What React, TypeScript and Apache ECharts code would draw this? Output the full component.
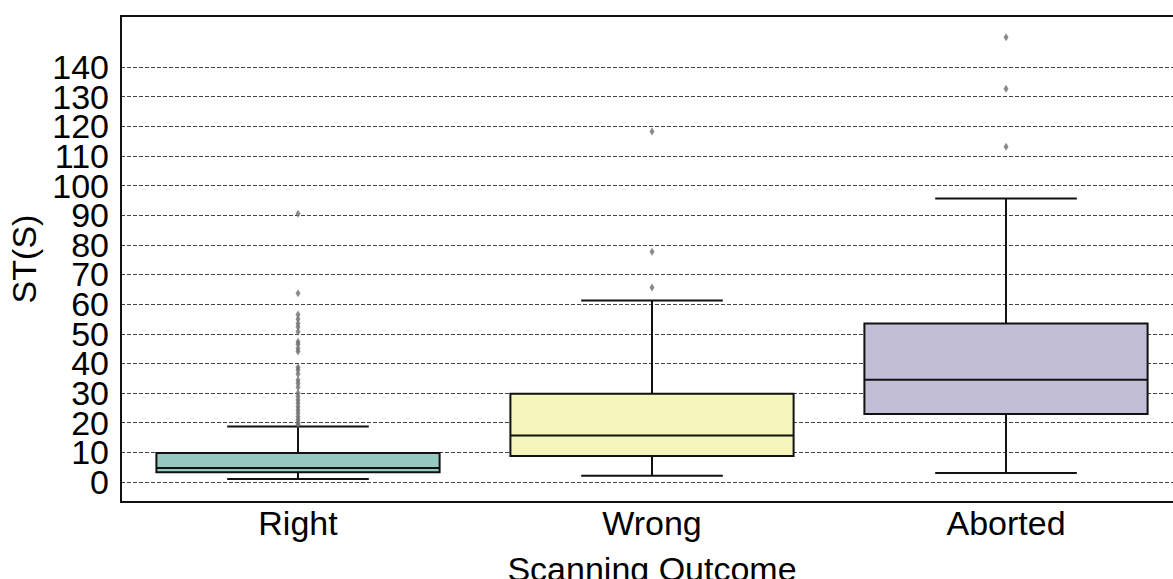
import React, { useEffect, useRef } from "react";
import * as echarts from "echarts";

const categories = ["Right", "Wrong", "Aborted"];
const whiskerLow = [1.0, 2.1, 3.0];
const q1 = [3.3, 8.8, 22.9];
const median = [4.7, 15.7, 34.5];
const q3 = [9.8, 29.8, 53.5];
const whiskerHigh = [18.7, 61.2, 95.6];
const outliersRight = [
  90.5, 63.7, 56.5, 55.0, 53.5, 52.3, 50.7, 47.3, 46.5, 45.0, 44.0, 38.7, 37.8,
  36.4, 34.4, 33.3, 32.0, 30.0, 28.8, 27.7, 26.6, 25.4, 24.3, 23.2, 22.0, 21.0,
  20.0, 19.5,
];
const outliersWrong = [118.2, 77.7, 65.6];
const outliersAborted = [150.0, 132.7, 113.1];
const yTicks = [0, 10, 20, 30, 40, 50, 60, 70, 80, 90, 100, 110, 120, 130, 140];
const yMin = -6.75;
const yMax = 157.2;
const boxColors = ["#96cac1", "#f6f6bc", "#c1bed6"];

const FONT = "Liberation Sans";

export default function App() {
  const ref = useRef<HTMLDivElement>(null);
  useEffect(() => {
    document.body.style.margin = "0";
    if (!ref.current) return;
    const chart = echarts.init(ref.current, undefined, { renderer: "svg" });
    const boxData = categories.map((_, i) => [
      i,
      whiskerLow[i],
      q1[i],
      median[i],
      q3[i],
      whiskerHigh[i],
    ]);
    const outlierData: number[][] = [];
    [outliersRight, outliersWrong, outliersAborted].forEach((arr, i) =>
      arr.forEach((v) => outlierData.push([i, v]))
    );
    const evenTicks = yTicks.filter((_, i) => i % 2 === 0);
    const oddTicks = yTicks.filter((_, i) => i % 2 === 1);
    const labelStyle = {
      showMinLabel: true,
      showMaxLabel: true,
      hideOverlap: false,
      color: "#000",
      fontSize: 34,
      fontFamily: FONT,
      margin: 12,
    };
    const lineStyle = { stroke: "#111", lineWidth: 2 };
    chart.setOption({
      animation: false,
      grid: {
        left: 121,
        top: 16,
        width: 1062,
        height: 486,
        outerBoundsMode: "none",
        containLabel: false,
        show: true,
        borderColor: "#111",
        borderWidth: 2,
        backgroundColor: "transparent",
      },
      xAxis: {
        type: "category",
        data: categories,
        boundaryGap: true,
        axisLine: {
          show: true,
          onZero: false,
          lineStyle: { color: "#111", width: 2 },
        },
        axisTick: { show: false },
        axisLabel: {
          color: "#000",
          fontSize: 34,
          fontFamily: FONT,
          margin: 4,
        },
        name: "Scanning Outcome",
        nameLocation: "middle",
        nameGap: 50,
        nameTextStyle: { color: "#000", fontSize: 34, fontFamily: FONT },
        splitLine: { show: false },
      },
      yAxis: [
        {
          type: "value",
          min: yMin,
          max: yMax,
          position: "left",
          axisLine: { show: true, lineStyle: { color: "#111", width: 2 } },
          axisTick: { show: false, customValues: yTicks },
          axisLabel: { ...labelStyle, customValues: evenTicks },
          splitLine: {
            show: true,
            lineStyle: { color: "#444", width: 1, type: [4, 2] },
          },
          name: "ST(S)",
          nameLocation: "middle",
          nameGap: 78,
          nameTextStyle: { color: "#000", fontSize: 34, fontFamily: FONT },
        },
        {
          type: "value",
          min: yMin,
          max: yMax,
          position: "left",
          offset: 0,
          axisLine: { show: false },
          axisTick: { show: false, customValues: oddTicks },
          axisLabel: { ...labelStyle, customValues: oddTicks },
          splitLine: { show: false },
        },
      ],
      series: [
        {
          type: "custom",
          data: boxData,
          encode: { x: 0, y: [1, 2, 3, 4, 5] },
          z: 3,
          renderItem: (params: any, api: any) => {
            const i = api.value(0);
            const lo = api.coord([i, api.value(1)]);
            const b1 = api.coord([i, api.value(2)]);
            const med = api.coord([i, api.value(3)]);
            const b3 = api.coord([i, api.value(4)]);
            const hi = api.coord([i, api.value(5)]);
            const band = api.size([1, 0])[0];
            const hw = band * 0.4;
            const cw = band * 0.2;
            const cx = lo[0];
            return {
              type: "group",
              children: [
                {
                  type: "line",
                  shape: { x1: cx, y1: b1[1], x2: cx, y2: lo[1] },
                  style: lineStyle,
                },
                {
                  type: "line",
                  shape: { x1: cx, y1: b3[1], x2: cx, y2: hi[1] },
                  style: lineStyle,
                },
                {
                  type: "line",
                  shape: { x1: cx - cw, y1: lo[1], x2: cx + cw, y2: lo[1] },
                  style: lineStyle,
                },
                {
                  type: "line",
                  shape: { x1: cx - cw, y1: hi[1], x2: cx + cw, y2: hi[1] },
                  style: lineStyle,
                },
                {
                  type: "rect",
                  shape: {
                    x: cx - hw,
                    y: b3[1],
                    width: hw * 2,
                    height: b1[1] - b3[1],
                  },
                  style: {
                    fill: boxColors[params.dataIndex],
                    stroke: "#111",
                    lineWidth: 2,
                  },
                },
                {
                  type: "line",
                  shape: { x1: cx - hw, y1: med[1], x2: cx + hw, y2: med[1] },
                  style: lineStyle,
                },
              ],
            };
          },
        },
        {
          type: "scatter",
          data: outlierData,
          symbol: "diamond",
          symbolSize: [5, 8],
          itemStyle: { color: "#6e6e6e" },
          z: 4,
        },
      ],
    });
    return () => chart.dispose();
  }, []);
  return <div ref={ref} style={{ width: 1173, height: 579 }} />;
}
